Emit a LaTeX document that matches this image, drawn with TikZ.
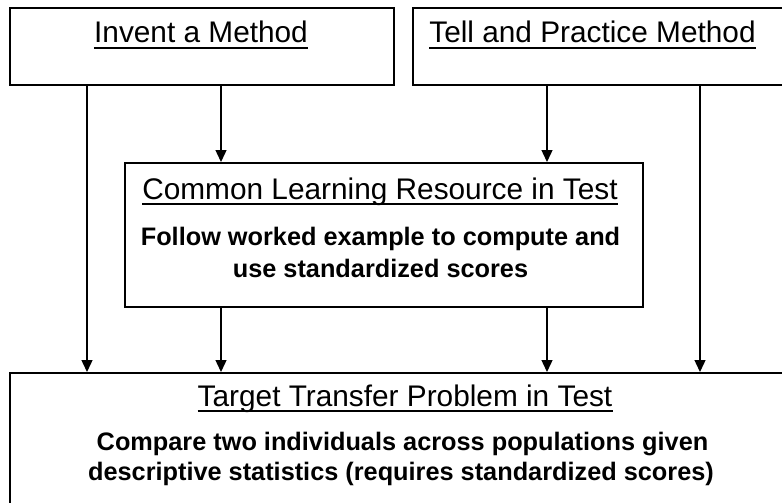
\documentclass[tikz,border=0pt]{standalone}
\usepackage{fontspec}
\setmainfont{Liberation Sans}
\usetikzlibrary{arrows.meta}
\begin{document}
\begin{tikzpicture}[x=1pt,y=-1pt,
  box/.style={draw=black, line width=1.6pt, fill=white, rectangle, inner sep=0pt, anchor=north west},
  title/.style={inner sep=0pt, anchor=base, font=\fontsize{29.8}{36}\selectfont},
  body/.style={inner sep=0pt, anchor=base, font=\fontsize{25.3}{30}\selectfont\bfseries},
  uline/.style={line width=1.4pt},
  arr/.style={line width=1.4pt, -{Triangle[width=11pt,length=12pt]}}]
\useasboundingbox (0,0) rectangle (782,503);
\clip (0,0) rectangle (782,503);
\fill[white] (0,0) rectangle (782,503);
% boxes
\node[box, minimum width=384, minimum height=77] (A) at (9,7) {};
\node[box, minimum width=390, minimum height=77] (B) at (412,7) {};
\node[box, minimum width=518, minimum height=144] (M) at (124,162) {};
\node[box, minimum width=795, minimum height=150] (T) at (9,372) {};
% texts
\node[title] (At) at (201,43) {Invent a Method};
\node[title] (Bt) at (592.5,43) {Tell and Practice Method};
\node[title] (Mt) at (380,199) {Common Learning Resource in Test};
\node[body] (M1) at (380.5,245) {Follow worked example to compute and};
\node[body] (M2) at (380.5,277) {use standardized scores};
\node[title] (Tt) at (405,406) {Target Transfer Problem in Test};
\node[body] (T1) at (402.5,450) {Compare two individuals across populations given};
\node[body] (T2) at (401,480) {descriptive statistics (requires standardized scores)};
% underlines
\foreach \n in {At,Bt,Mt,Tt}
  \draw[uline] ([yshift=-5pt]\n.base west) -- ([yshift=-5pt]\n.base east);
% connectors
\draw[arr] (A.south -| 87,0) -- (T.north -| 87,0);
\draw[arr] (A.south -| 221,0) -- (M.north -| 221,0);
\draw[arr] (M.south -| 221,0) -- (T.north -| 221,0);
\draw[arr] (B.south -| 547,0) -- (M.north -| 547,0);
\draw[arr] (M.south -| 547,0) -- (T.north -| 547,0);
\draw[arr] (B.south -| 700,0) -- (T.north -| 700,0);
\end{tikzpicture}
\end{document}
